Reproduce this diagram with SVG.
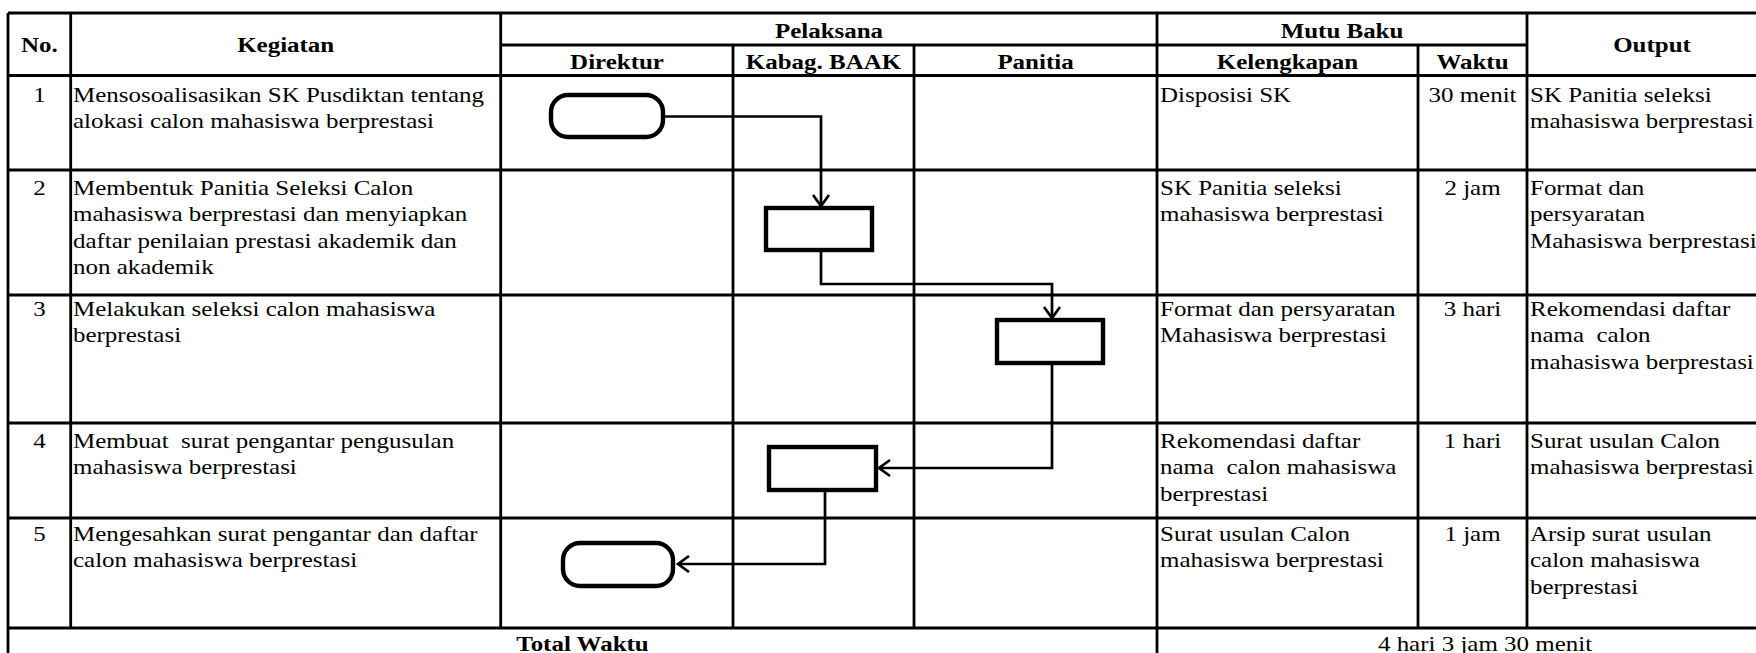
<svg xmlns="http://www.w3.org/2000/svg" width="1756" height="653" viewBox="0 0 1756 653">
  <style>
    .grid line { stroke: #000; stroke-width: 2.8; }
    .shape { fill: #fff; stroke: #000; stroke-width: 4.4; }
    .conn { fill: none; stroke: #000; stroke-width: 2.7; marker-end: url(#chev); }
    text { font-family: "Liberation Serif", "Times New Roman", serif; font-size: 22px; fill: #000; }
    .hd { font-weight: bold; }
    .mid { text-anchor: middle; }
  </style>
  <defs>
    <!-- open chevron arrowhead -->
    <marker id="chev" markerUnits="userSpaceOnUse" viewBox="-2 -11 16 22" refX="12" refY="0" markerWidth="16" markerHeight="22" orient="auto">
      <path d="M1,-8 L12,0 L1,8" fill="none" stroke="#000" stroke-width="2.7"/>
    </marker>
  </defs>
  <rect width="1756" height="653" fill="#fff"/>

  <!-- table rules -->
  <g class="grid" id="table">
    <line x1="8" y1="13" x2="1813" y2="13"/>
    <line x1="500.7" y1="45" x2="1527" y2="45"/>
    <line x1="8" y1="75.5" x2="1813" y2="75.5"/>
    <line x1="8" y1="170" x2="1813" y2="170"/>
    <line x1="8" y1="295" x2="1813" y2="295"/>
    <line x1="8" y1="423" x2="1813" y2="423"/>
    <line x1="8" y1="518" x2="1813" y2="518"/>
    <line x1="8" y1="628" x2="1813" y2="628"/>
    <line x1="8" y1="668" x2="1813" y2="668"/>
    <line x1="8" y1="13" x2="8" y2="668"/>
    <line x1="70.7" y1="13" x2="70.7" y2="628"/>
    <line x1="500.7" y1="13" x2="500.7" y2="628"/>
    <line x1="733" y1="45" x2="733" y2="628"/>
    <line x1="914" y1="45" x2="914" y2="628"/>
    <line x1="1157" y1="13" x2="1157" y2="668"/>
    <line x1="1418" y1="45" x2="1418" y2="628"/>
    <line x1="1527" y1="13" x2="1527" y2="628"/>
  </g>

  <!-- header (glyphs set slightly wide) -->
  <g id="header" class="hd">
    <text class="hd mid" transform="translate(39.4 52) scale(1.135 1)">No.</text>
    <text class="hd mid" transform="translate(285.7 52) scale(1.135 1)">Kegiatan</text>
    <text class="hd mid" transform="translate(829 38) scale(1.135 1)">Pelaksana</text>
    <text class="hd mid" transform="translate(617 69) scale(1.135 1)">Direktur</text>
    <text class="hd mid" transform="translate(823.5 69) scale(1.135 1)">Kabag. BAAK</text>
    <text class="hd mid" transform="translate(1035.5 69) scale(1.135 1)">Panitia</text>
    <text class="hd mid" transform="translate(1342 38) scale(1.135 1)">Mutu Baku</text>
    <text class="hd mid" transform="translate(1287.5 69) scale(1.135 1)">Kelengkapan</text>
    <text class="hd mid" transform="translate(1472.5 69) scale(1.135 1)">Waktu</text>
    <text class="hd mid" transform="translate(1652 52) scale(1.135 1)">Output</text>
  </g>

  <!-- row 1 -->
  <g id="row1">
    <text class="mid" transform="translate(39.4 101.5) scale(1.135 1)">1</text>
    <text transform="translate(73 101.5) scale(1.135 1)"><tspan x="0">Mensosoalisasikan SK Pusdiktan tentang</tspan><tspan x="0" dy="26.5">alokasi calon mahasiswa berprestasi</tspan></text>
    <text transform="translate(1160 101.5) scale(1.135 1)">Disposisi SK</text>
    <text class="mid" transform="translate(1472.5 101.5) scale(1.135 1)">30 menit</text>
    <text transform="translate(1530 101.5) scale(1.135 1)"><tspan x="0">SK Panitia seleksi</tspan><tspan x="0" dy="26.5">mahasiswa berprestasi</tspan></text>
  </g>

  <!-- row 2 -->
  <g id="row2">
    <text class="mid" transform="translate(39.4 195) scale(1.135 1)">2</text>
    <text transform="translate(73 195) scale(1.135 1)"><tspan x="0">Membentuk Panitia Seleksi Calon</tspan><tspan x="0" dy="26.5">mahasiswa berprestasi dan menyiapkan</tspan><tspan x="0" dy="26.5">daftar penilaian prestasi akademik dan</tspan><tspan x="0" dy="26.5">non akademik</tspan></text>
    <text transform="translate(1160 195) scale(1.135 1)"><tspan x="0">SK Panitia seleksi</tspan><tspan x="0" dy="26.5">mahasiswa berprestasi</tspan></text>
    <text class="mid" transform="translate(1472.5 195) scale(1.135 1)">2 jam</text>
    <text transform="translate(1530 195) scale(1.135 1)"><tspan x="0">Format dan</tspan><tspan x="0" dy="26.5">persyaratan</tspan><tspan x="0" dy="26.5">Mahasiswa berprestasi</tspan></text>
  </g>

  <!-- row 3 -->
  <g id="row3">
    <text class="mid" transform="translate(39.4 316) scale(1.135 1)">3</text>
    <text transform="translate(73 316) scale(1.135 1)"><tspan x="0">Melakukan seleksi calon mahasiswa</tspan><tspan x="0" dy="26.5">berprestasi</tspan></text>
    <text transform="translate(1160 316) scale(1.135 1)"><tspan x="0">Format dan persyaratan</tspan><tspan x="0" dy="26.5">Mahasiswa berprestasi</tspan></text>
    <text class="mid" transform="translate(1472.5 316) scale(1.135 1)">3 hari</text>
    <text transform="translate(1530 316) scale(1.135 1)" xml:space="preserve"><tspan x="0">Rekomendasi daftar</tspan><tspan x="0" dy="26.5">nama  calon</tspan><tspan x="0" dy="26.5">mahasiswa berprestasi</tspan></text>
  </g>

  <!-- row 4 -->
  <g id="row4">
    <text class="mid" transform="translate(39.4 448) scale(1.135 1)">4</text>
    <text transform="translate(73 448) scale(1.135 1)" xml:space="preserve"><tspan x="0">Membuat  surat pengantar pengusulan</tspan><tspan x="0" dy="26.5">mahasiswa berprestasi</tspan></text>
    <text transform="translate(1160 448) scale(1.135 1)" xml:space="preserve"><tspan x="0">Rekomendasi daftar</tspan><tspan x="0" dy="26.5">nama  calon mahasiswa</tspan><tspan x="0" dy="26.5">berprestasi</tspan></text>
    <text class="mid" transform="translate(1472.5 448) scale(1.135 1)">1 hari</text>
    <text transform="translate(1530 448) scale(1.135 1)"><tspan x="0">Surat usulan Calon</tspan><tspan x="0" dy="26.5">mahasiswa berprestasi</tspan></text>
  </g>

  <!-- row 5 -->
  <g id="row5">
    <text class="mid" transform="translate(39.4 541) scale(1.135 1)">5</text>
    <text transform="translate(73 541) scale(1.135 1)"><tspan x="0">Mengesahkan surat pengantar dan daftar</tspan><tspan x="0" dy="26.5">calon mahasiswa berprestasi</tspan></text>
    <text transform="translate(1160 541) scale(1.135 1)"><tspan x="0">Surat usulan Calon</tspan><tspan x="0" dy="26.5">mahasiswa berprestasi</tspan></text>
    <text class="mid" transform="translate(1472.5 541) scale(1.135 1)">1 jam</text>
    <text transform="translate(1530 541) scale(1.135 1)"><tspan x="0">Arsip surat usulan</tspan><tspan x="0" dy="26.5">calon mahasiswa</tspan><tspan x="0" dy="26.5">berprestasi</tspan></text>
  </g>

  <!-- total row -->
  <g id="total">
    <text class="hd mid" transform="translate(582.5 651) scale(1.135 1)">Total Waktu</text>
    <text class="mid" transform="translate(1485 651) scale(1.135 1)">4 hari 3 jam 30 menit</text>
  </g>

  <!-- flow connectors -->
  <g id="connectors">
    <path class="conn" d="M665 116.5 H821 V206"/>
    <path class="conn" d="M821 250 V284 H1052 V318"/>
    <path class="conn" d="M1052 363 V468 H879"/>
    <path class="conn" d="M825 490 V564 H678"/>
  </g>

  <!-- flow shapes -->
  <g id="start-direktur"><rect class="shape" x="551" y="95" width="112" height="42" rx="17"/></g>
  <g id="step-kabag-1"><rect class="shape" x="766" y="208" width="106" height="42"/></g>
  <g id="step-panitia"><rect class="shape" x="997" y="320" width="106" height="43"/></g>
  <g id="step-kabag-2"><rect class="shape" x="769" y="447" width="107" height="43"/></g>
  <g id="end-direktur"><rect class="shape" x="563" y="543" width="110" height="43" rx="17"/></g>
</svg>
